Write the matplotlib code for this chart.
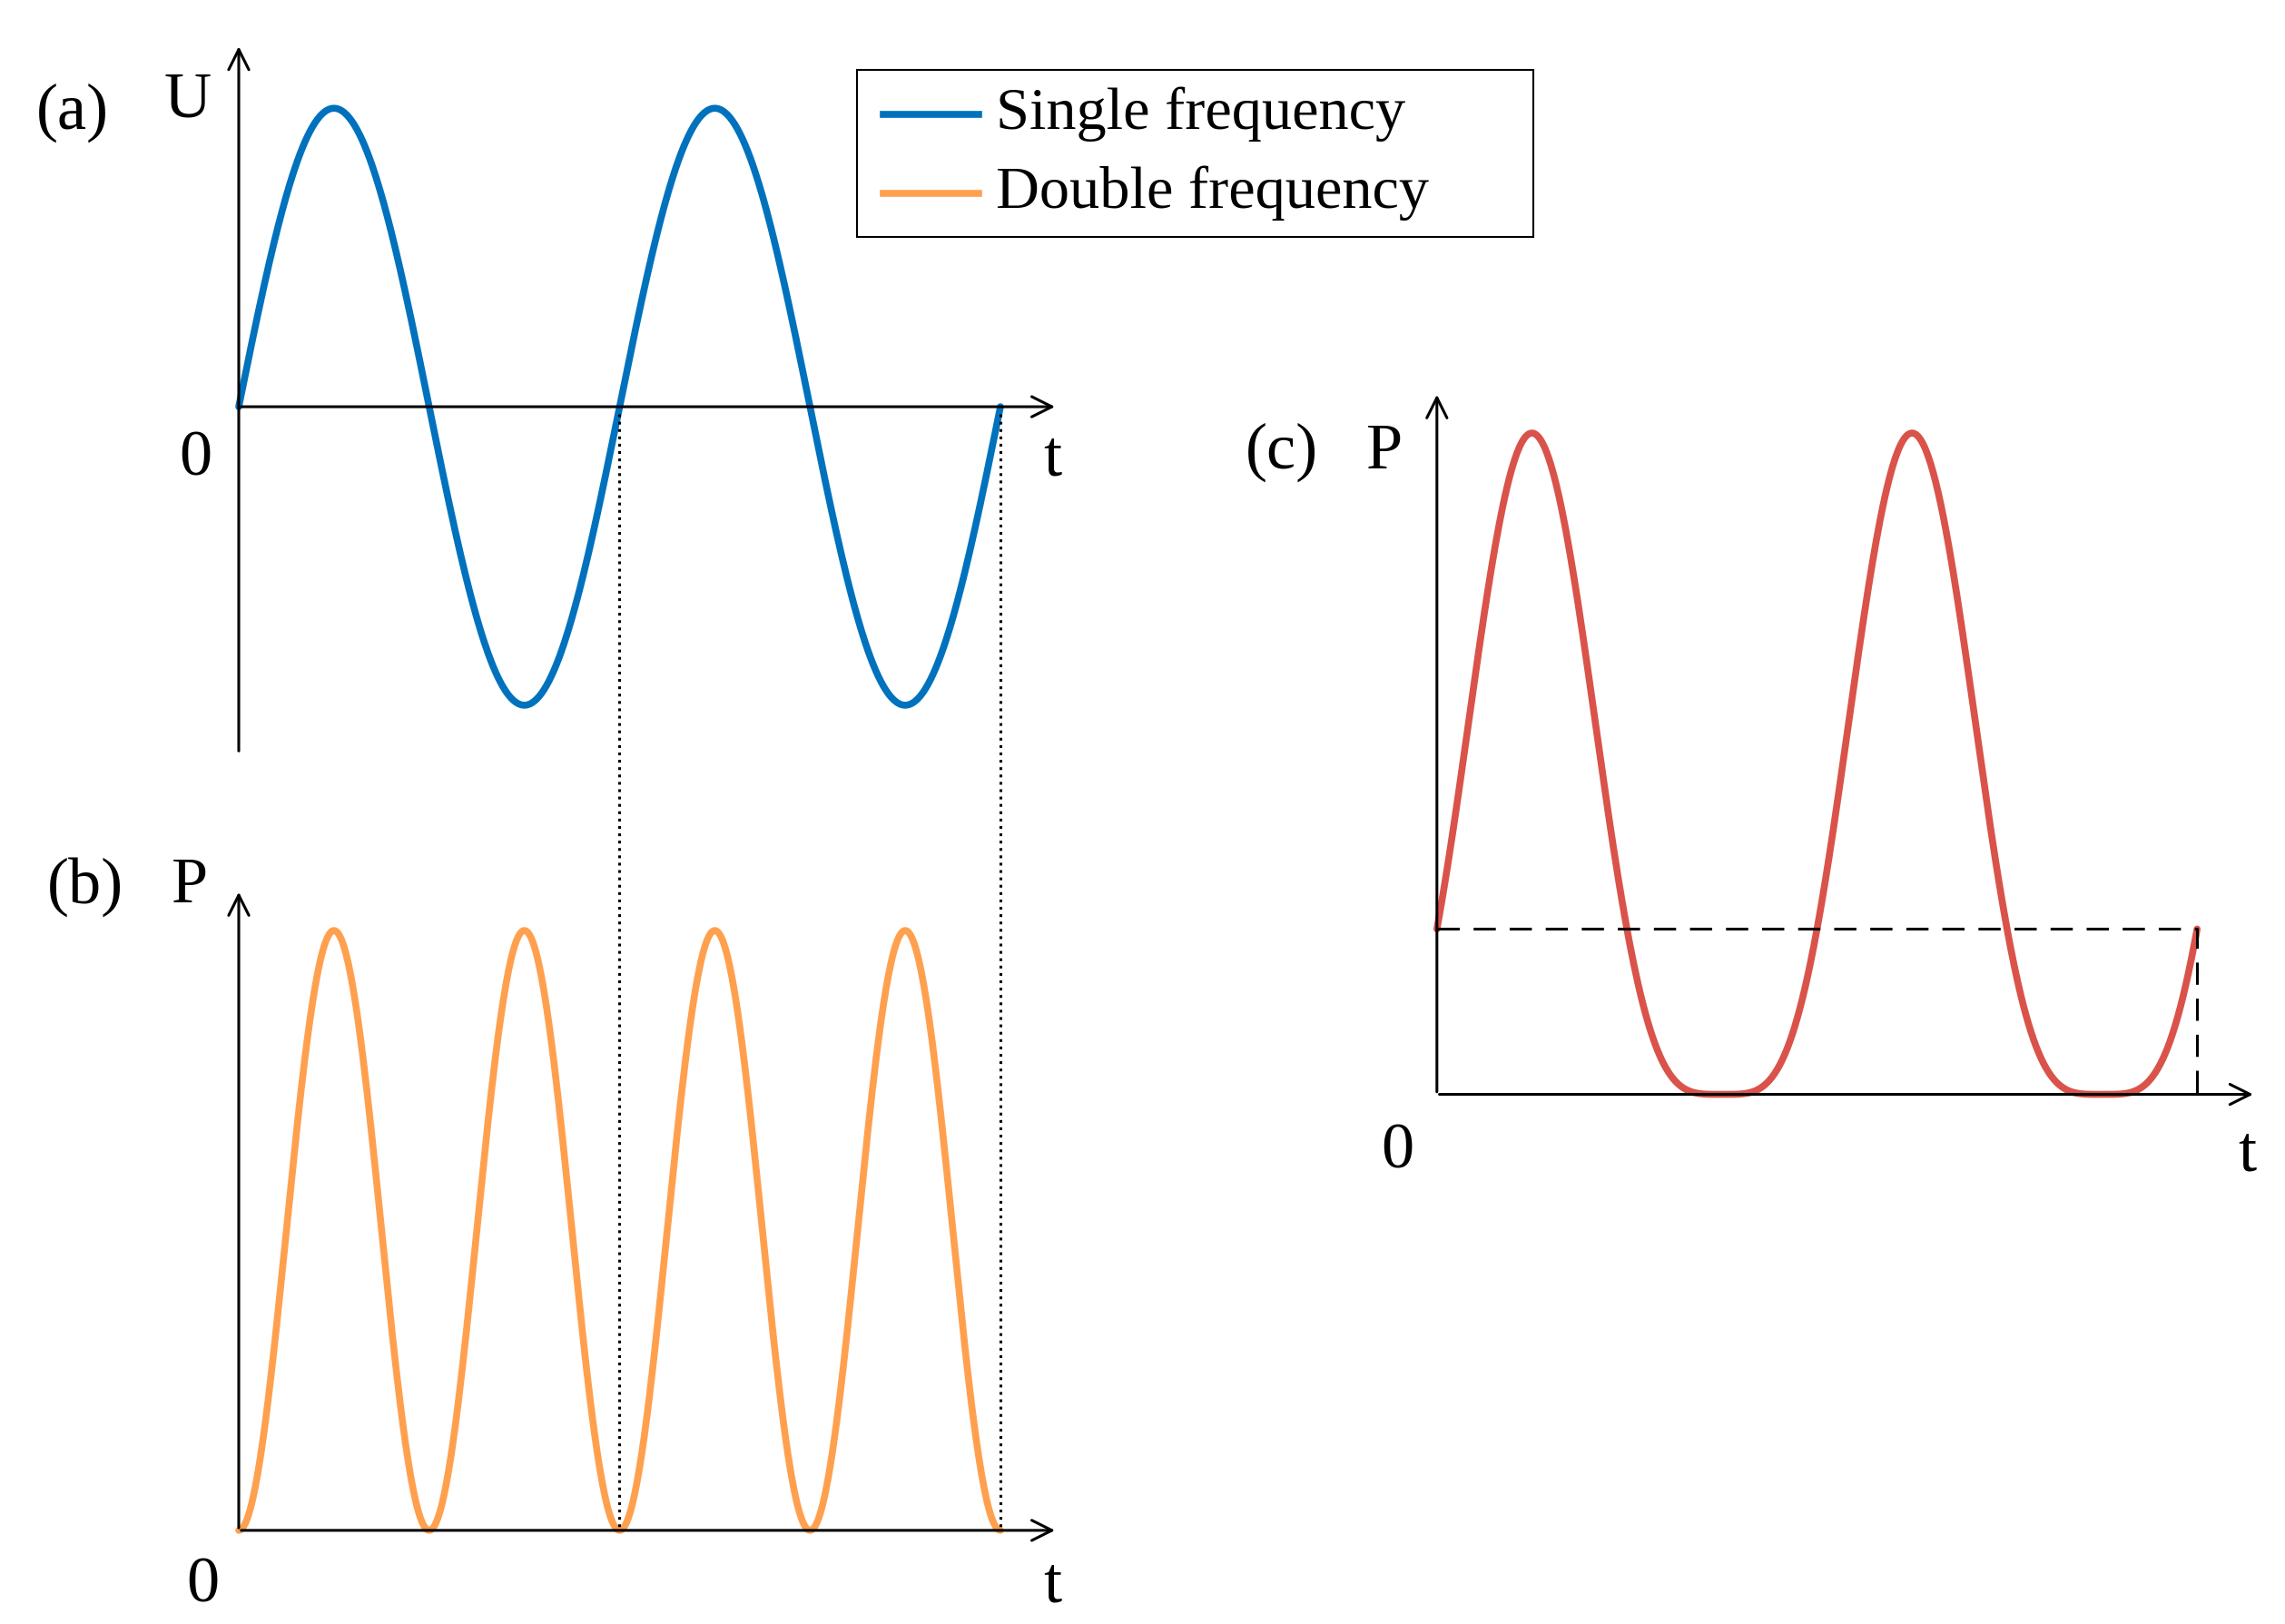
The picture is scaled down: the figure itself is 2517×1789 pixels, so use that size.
import numpy as np
import matplotlib.pyplot as plt
from matplotlib.patches import Rectangle

plt.rcParams['font.family'] = ['Liberation Serif', 'DejaVu Serif']

# schematic parameters (canvas units, y down)
n_periods = 2
amp_u = 204          # amplitude of U in panel (a)
amp_p = 410          # peak of P in panel (b)
mean_c = 113         # dashed mean level in panel (c)
labels = ['Single frequency', 'Double frequency']
colors = ['#0072BD', '#FFA04F', '#D9534A']

# panel origins / extents
ax0, ay0, ax1 = 163, 278, 683
bx0, by0 = 163, 1046
cx0, cy0, cx1 = 981, 748, 1500

fig = plt.figure(figsize=(25.17, 17.89), dpi=100)
ax = fig.add_axes([0, 0, 1, 1])
ax.set_xlim(0, 1560)
ax.set_ylim(1110, 0)
ax.axis('off')

theta = np.linspace(0, 2 * np.pi * n_periods, 600)
arr = dict(arrowstyle='->', lw=2.2, color='black', mutation_scale=40)
fs = 52

def axes_lines(x0, y0, xend, ytop, ybot=None):
    ax.annotate('', xy=(xend, y0), xytext=(x0, y0), arrowprops=arr)
    ax.annotate('', xy=(x0, ytop), xytext=(x0, ybot if ybot else y0), arrowprops=arr)

# (a)
axes_lines(ax0, ay0, 722, 30, 515)
xa = ax0 + (ax1 - ax0) * theta / theta[-1]
ax.plot(xa, ay0 - amp_u * np.sin(theta), color=colors[0], lw=5.5, solid_capstyle='round')
ax.text(25, 88, '(a)', fontsize=fs)
ax.text(112, 80, 'U', fontsize=fs)
ax.text(122, 325, '0', fontsize=fs)
ax.text(712, 325, 't', fontsize=fs)

# (b)
axes_lines(bx0, by0, 722, 608)
ax.plot(xa, by0 - amp_p * np.sin(theta) ** 2, color=colors[1], lw=5.5, solid_capstyle='round')
ax.text(32, 617, '(b)', fontsize=fs)
ax.text(117, 617, 'P', fontsize=fs)
ax.text(127, 1095, '0', fontsize=fs)
ax.text(712, 1095, 't', fontsize=fs)

# dotted guides
for xv in [ax0 + (ax1 - ax0) / 2, ax1]:
    ax.plot([xv, xv], [ay0 + 5, by0], ls=':', color='black', lw=2.2)

# (c)
axes_lines(cx0, cy0, 1540, 268)
xc = cx0 + (cx1 - cx0) * theta / theta[-1]
ax.plot(xc, cy0 - mean_c * (1 + np.sin(theta)) ** 2, color=colors[2], lw=5.5, solid_capstyle='round')
ax.plot([cx0, cx1, cx1], [cy0 - mean_c, cy0 - mean_c, cy0], ls='--', color='black', lw=2.2, dashes=(8, 5))
ax.text(850, 320, '(c)', fontsize=fs)
ax.text(933, 320, 'P', fontsize=fs)
ax.text(943, 798, '0', fontsize=fs)
ax.text(1528, 800, 't', fontsize=fs)

# legend
ax.add_patch(Rectangle((585, 48), 462, 114, fill=False, lw=1.5, ec='black'))
for i, (lab, yy) in enumerate(zip(labels, [78, 132])):
    ax.plot([603, 668], [yy, yy], color=colors[i], lw=5.5)
    ax.text(680, yy, lab, fontsize=fs * 0.92, va='center')

fig.savefig('out.png', dpi=100)
